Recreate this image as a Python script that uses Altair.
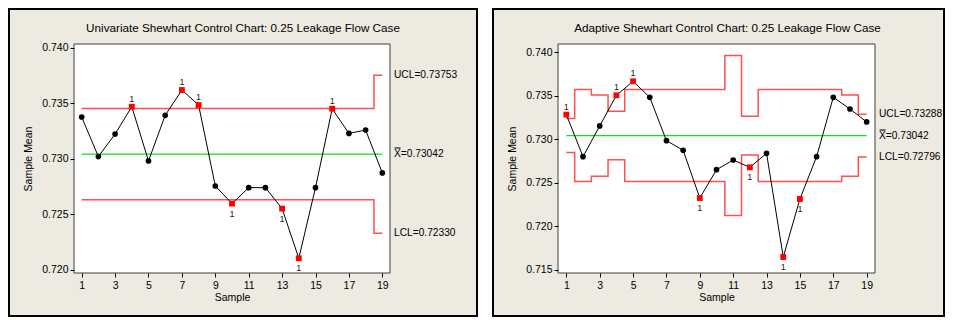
import altair as alt
import pandas as pd

BEIGE = "#EDEAE1"
RED = "#FF5050"
GREEN = "#10E010"
FONT = "Liberation Sans"

samples = list(range(1, 20))
tick_x = [1, 3, 5, 7, 9, 11, 13, 15, 17, 19]

# Univariate Shewhart chart
uni_title = "Univariate Shewhart Control Chart: 0.25 Leakage Flow Case"
uni_means = [0.73376, 0.73020, 0.73223, 0.73469, 0.72981, 0.73391, 0.73619, 0.73484, 0.72756, 0.72597,
             0.72741, 0.72741, 0.72552, 0.72105, 0.72741, 0.73451, 0.73229, 0.73259, 0.72873]
uni_ucl = [0.73452, 0.73452, 0.73452, 0.73452, 0.73452, 0.73452, 0.73452, 0.73452, 0.73452, 0.73452,
           0.73452, 0.73452, 0.73452, 0.73452, 0.73452, 0.73452, 0.73452, 0.73452, 0.73753]
uni_lcl = [0.72632, 0.72632, 0.72632, 0.72632, 0.72632, 0.72632, 0.72632, 0.72632, 0.72632, 0.72632,
           0.72632, 0.72632, 0.72632, 0.72632, 0.72632, 0.72632, 0.72632, 0.72632, 0.72330]
uni_center = 0.73042
uni_flag = [0, 0, 0, 1, 0, 0, 1, 1, 0, 1, 0, 0, 1, 1, 0, 1, 0, 0, 0]
uni_yticks = [0.720, 0.725, 0.730, 0.735, 0.740]

# Adaptive Shewhart chart
ada_title = "Adaptive Shewhart Control Chart: 0.25 Leakage Flow Case"
ada_means = [0.73283, 0.72800, 0.73153, 0.73505, 0.73666, 0.73482, 0.72984, 0.72873, 0.72324, 0.72650,
             0.72761, 0.72677, 0.72838, 0.71646, 0.72313, 0.72800, 0.73482, 0.73348, 0.73199]
ada_ucl = [0.73237, 0.73571, 0.73509, 0.73321, 0.73571, 0.73571, 0.73571, 0.73571, 0.73571, 0.73571,
           0.73962, 0.73264, 0.73571, 0.73571, 0.73571, 0.73571, 0.73571, 0.73509, 0.73288]
ada_lcl = [0.72847, 0.72513, 0.72575, 0.72763, 0.72513, 0.72513, 0.72513, 0.72513, 0.72513, 0.72513,
           0.72122, 0.72820, 0.72513, 0.72513, 0.72513, 0.72513, 0.72513, 0.72575, 0.72796]
ada_center = 0.73042
ada_flag = [1, 0, 0, 1, 1, 0, 0, 0, 1, 0, 0, 1, 0, 1, 1, 0, 0, 0, 0]
ada_yticks = [0.715, 0.720, 0.725, 0.730, 0.735, 0.740]

XBAR = "X\u033F"


def panel(title, means, ucl, lcl, center, flag, yticks, ydom, xdom, w, h, rect_x2):
    df = pd.DataFrame({
        "sample": samples, "mean": means, "ucl": ucl, "lcl": lcl,
        "cl": [center] * len(samples), "flag": flag,
        "side": ["above" if m > center else "below" for m in means],
    })
    labels = pd.DataFrame({
        "label": [f"UCL={ucl[-1]:.5f}", f"{XBAR}={center:.5f}", f"LCL={lcl[-1]:.5f}"],
        "value": [ucl[-1], center, lcl[-1]],
    })
    one = pd.DataFrame({"k": [0]})

    xaxis = alt.Axis(values=tick_x, tickSize=4, tickColor="black", domain=False, grid=False,
                     labelFont=FONT, labelFontSize=10.5, labelColor="black", labelPadding=3,
                     titleFont=FONT, titleFontSize=10.5, titleFontWeight="normal", titleColor="black",
                     titlePadding=2, zindex=1)
    yaxis = alt.Axis(values=yticks, format=".3f", tickSize=4, tickColor="black", domain=False, grid=False,
                     labelFont=FONT, labelFontSize=10.5, labelColor="black", labelPadding=2,
                     titleFont=FONT, titleFontSize=10.5, titleFontWeight="normal", titleColor="black",
                     titlePadding=8, zindex=1)
    xs = alt.Scale(domain=xdom, nice=False, zero=False)
    ys = alt.Scale(domain=ydom, nice=False, zero=False)

    def X():
        return alt.X("sample:Q", scale=xs, axis=xaxis, title="Sample")

    def Y(field):
        return alt.Y(f"{field}:Q", scale=ys, axis=yaxis, title="Sample Mean")

    bg = alt.Chart(one).mark_rect(fill=BEIGE, stroke="black", strokeWidth=2).encode(
        x=alt.value(-65), x2=alt.value(rect_x2), y=alt.value(-35), y2=alt.value(h + 43))
    plotbg = alt.Chart(one).mark_rect(fill="white", stroke="#404040", strokeWidth=1).encode(
        x=alt.value(0), x2=alt.value(w), y=alt.value(0), y2=alt.value(h))

    base = alt.Chart(df)
    ucl_line = base.mark_line(interpolate="step", color=RED, strokeWidth=1.5).encode(x=X(), y=Y("ucl"))
    lcl_line = base.mark_line(interpolate="step", color=RED, strokeWidth=1.5).encode(x=X(), y=Y("lcl"))
    cl_line = base.mark_line(color=GREEN, strokeWidth=1.4).encode(x=X(), y=Y("cl"))
    data_line = base.mark_line(color="black", strokeWidth=1).encode(x=X(), y=Y("mean"))
    dots = base.transform_filter("datum.flag == 0").mark_point(
        shape="circle", filled=True, color="black", size=32, opacity=1).encode(x=X(), y=Y("mean"))
    squares = base.transform_filter("datum.flag == 1").mark_point(
        shape="square", filled=True, color="#FF0000", size=34, opacity=1).encode(x=X(), y=Y("mean"))
    lab_above = base.transform_filter("datum.flag == 1 && datum.side == 'above'").mark_text(
        text="1", dy=-8, fontSize=9, font=FONT, color="#222").encode(x=X(), y=Y("mean"))
    lab_below = base.transform_filter("datum.flag == 1 && datum.side == 'below'").mark_text(
        text="1", dy=10, fontSize=9, font=FONT, color="#222").encode(x=X(), y=Y("mean"))
    side = alt.Chart(labels).mark_text(align="left", baseline="middle", fontSize=10.2, font=FONT,
                                       color="black").encode(
        x=alt.value(w + 4), y=Y("value"), text="label:N")

    return alt.layer(bg, plotbg, ucl_line, lcl_line, cl_line, data_line, dots, squares,
                     lab_above, lab_below, side).properties(
        width=w, height=h,
        title=alt.TitleParams(title, font=FONT, fontSize=11.7, fontWeight="normal", color="black",
                              frame="group", anchor="middle", dx=11, offset=-36, baseline="alphabetic"))


left = panel(uni_title, uni_means, uni_ucl, uni_lcl, uni_center, uni_flag, uni_yticks,
             [0.71973, 0.74033], [0.54, 19.46], 316, 229, 403)
right = panel(ada_title, ada_means, ada_ucl, ada_lcl, ada_center, ada_flag, ada_yticks,
              [0.71462, 0.74095], [0.5, 19.5], 317, 229, 386)

chart = alt.hconcat(left, right, spacing=14).properties(padding=0, background="white").configure_view(
    strokeWidth=0)

chart.save("out.html", embed_options={"renderer": "svg", "actions": False})
